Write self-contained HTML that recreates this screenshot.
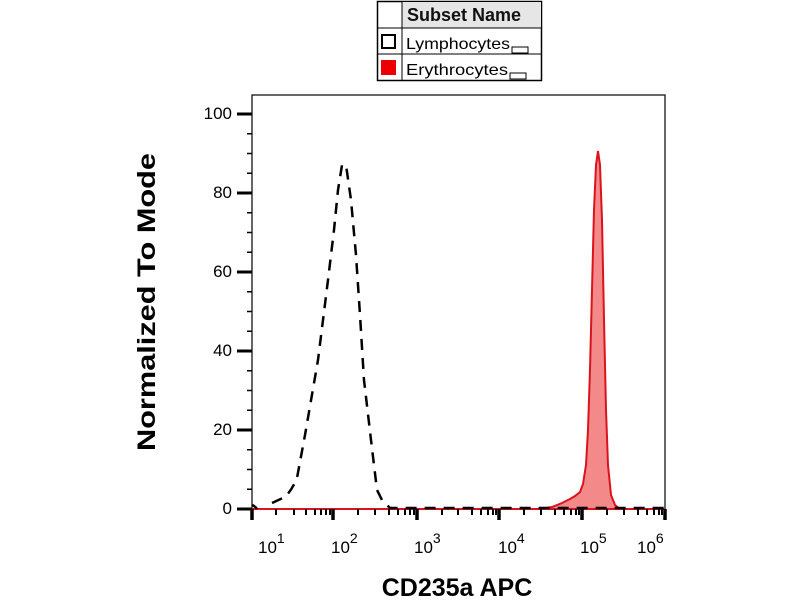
<!DOCTYPE html>
<html><head><meta charset="utf-8"><style>body{margin:0;background:#fff}svg{display:block}</style></head>
<body>
<svg width="800" height="600" xmlns="http://www.w3.org/2000/svg" font-family="Liberation Sans, sans-serif">
<!-- legend -->
<rect x="377.5" y="1.5" width="164" height="79" fill="#fff" stroke="#000" stroke-width="1.5"/>
<rect x="402" y="2" width="139" height="26" fill="#e6e6e6"/>
<line x1="402" y1="1" x2="402" y2="80" stroke="#000" stroke-width="1"/>
<line x1="377" y1="28" x2="541" y2="28" stroke="#000" stroke-width="1"/>
<line x1="377" y1="54" x2="541" y2="54" stroke="#000" stroke-width="1"/>
<text x="407" y="21" font-size="18" font-weight="bold" fill="#111">Subset Name</text>
<rect x="382" y="35" width="13" height="13" fill="#fff" stroke="#000" stroke-width="2"/>
<text x="406" y="49" font-size="16" textLength="104" lengthAdjust="spacingAndGlyphs">Lymphocytes</text>
<rect x="512" y="47" width="16" height="6" fill="#fff" stroke="#000" stroke-width="1"/>
<rect x="381" y="60" width="15" height="15" fill="#e00"/>
<text x="406" y="75" font-size="16" textLength="102" lengthAdjust="spacingAndGlyphs">Erythrocytes</text>
<rect x="510" y="73" width="16" height="6" fill="#fff" stroke="#000" stroke-width="1"/>
<!-- plot box -->
<rect x="252" y="95" width="413" height="414" fill="#fff" stroke="#000" stroke-width="1.2"/>
<!-- red histogram -->
<path d="M252,509 L540,509 L552,507 L562,503 L570,499 L575,496 L580,492 L583,484 L586,465 L588,430 L590,370 L592,290 L594,210 L596,165 L598,151 L600,165 L602,220 L604,320 L606,410 L608,465 L611,495 L615,505 L620,509 L665,509 Z" fill="#f4898a" stroke="#d9141c" stroke-width="2"/>
<line x1="252" y1="509" x2="665" y2="509" stroke="#d9141c" stroke-width="2"/>
<!-- dashed black -->
<path d="M252,505 Q255,506 257,509 M272,503 L285,497 Q292,490 297,478 L305,435 L318,360 L328,280 L334,230 L338,190 L342,165 L346,165 L351,200 L356,255 L360,315 L364,380 L371,440 L377,490 L382,500 L390,508 L665,508" fill="none" stroke="#000" stroke-width="2.5" stroke-dasharray="11,8"/>
<!-- y ticks -->
<g stroke="#000">
<line x1="237" y1="509" x2="252" y2="509" stroke-width="3"/>
<line x1="237" y1="430" x2="252" y2="430" stroke-width="3"/>
<line x1="237" y1="351" x2="252" y2="351" stroke-width="3"/>
<line x1="237" y1="272" x2="252" y2="272" stroke-width="3"/>
<line x1="237" y1="193" x2="252" y2="193" stroke-width="3"/>
<line x1="237" y1="114" x2="252" y2="114" stroke-width="3"/>
<path d="M247,489.3H252M247,469.5H252M247,449.8H252M247,410.3H252M247,390.5H252M247,370.8H252M247,331.3H252M247,311.5H252M247,291.8H252M247,252.3H252M247,232.5H252M247,212.8H252M247,173.3H252M247,153.5H252M247,133.8H252" stroke-width="1.5"/>
</g>
<g font-size="17" text-anchor="end">
<text x="232" y="514">0</text><text x="232" y="435">20</text><text x="232" y="356">40</text>
<text x="232" y="277">60</text><text x="232" y="198">80</text><text x="232" y="119">100</text>
</g>
<!-- x ticks -->
<g stroke="#000">
<path d="M252,509V520M333,509V520M417,509V520M499,509V520M582,509V520M665,509V520" stroke-width="3.5"/>
<path d="M276,509V515M294,509V515M306,509V515M315,509V515M321,509V515M326,509V515M330,509V515
M358,509V515M375,509V515M389,509V515M398,509V515M405,509V515M410,509V515M414,509V515
M442,509V515M458,509V515M472,509V515M481,509V515M488,509V515M493,509V515M496,509V515
M524,509V515M541,509V515M555,509V515M564,509V515M571,509V515M576,509V515M579,509V515
M607,509V515M624,509V515M638,509V515M647,509V515M654,509V515M659,509V515M662,509V515" stroke-width="2"/>
</g>
<g font-size="17">
<text x="258" y="553">10<tspan dy="-10" font-size="14">1</tspan></text>
<text x="331" y="553">10<tspan dy="-10" font-size="14">2</tspan></text>
<text x="414" y="553">10<tspan dy="-10" font-size="14">3</tspan></text>
<text x="498" y="553">10<tspan dy="-10" font-size="14">4</tspan></text>
<text x="580" y="553">10<tspan dy="-10" font-size="14">5</tspan></text>
<text x="637" y="553">10<tspan dy="-10" font-size="14">6</tspan></text>
</g>
<text x="457" y="596" font-size="25" font-weight="bold" text-anchor="middle">CD235a APC</text>
<text transform="translate(155,302) rotate(-90)" font-size="25" font-weight="bold" text-anchor="middle" textLength="298" lengthAdjust="spacingAndGlyphs">Normalized To Mode</text>
</svg>
</body></html>
